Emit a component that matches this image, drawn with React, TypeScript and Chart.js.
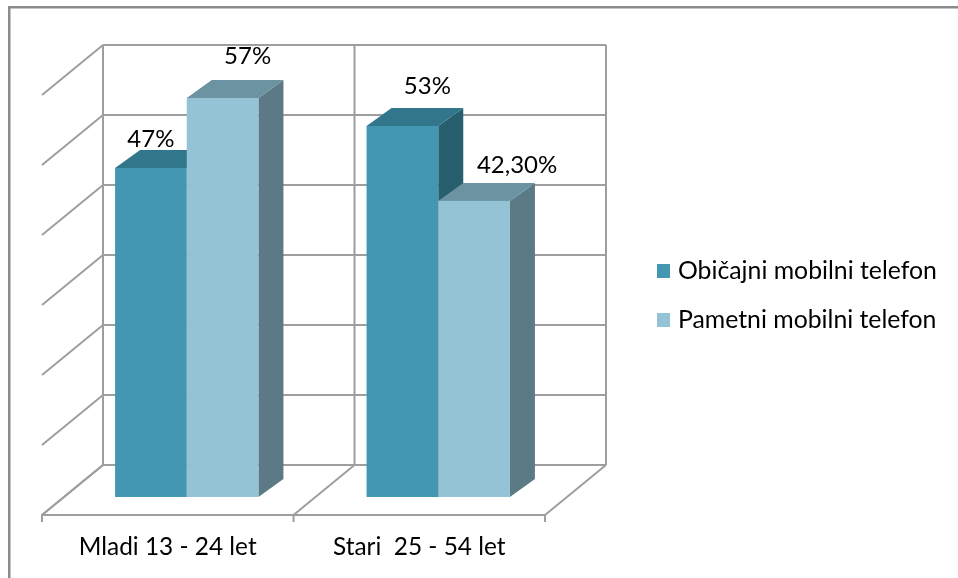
import React, { useEffect, useRef } from "react";
import { Chart, registerables } from "chart.js";

Chart.register(...registerables);

// ---- data ----
const categories = ["Mladi 13 - 24 let", "Stari  25 - 54 let"];
const seriesNames = ["Običajni mobilni telefon", "Pametni mobilni telefon"];
const obicajniValues = [47, 53];
const pametniValues = [57, 42.3];
const yMin = 0;
const yMax = 60;
const yStep = 10;

// ---- styles ----
const FONT = "Lato, 'Open Sans', sans-serif";
const GRID = "#9e9e9e";
const FACE = [
  { front: "#4397B0", top: "#31768A", side: "#275F6F" },
  { front: "#93C3D4", top: "#6B93A2", side: "#5B7A86" },
];
const WALL = { dx: 61, dy: -50 }; // back wall offset from floor front edge
const BAR_OFF = { dx: 19, dy: -18 }; // bar front plane offset from floor front edge
const BAR_DEPTH = { dx: 25, dy: -18 };
// label nudges relative to (bar front center, bar back-top edge)
const LABEL_NUDGE = [
  [{ dx: 0, dy: -11 }, { dx: 25, dy: -22 }],
  [{ dx: 25, dy: -24 }, { dx: 43, dy: -18 }],
];

function fmt(v: number) {
  return Number.isInteger(v) ? `${v}%` : `${v.toFixed(2).replace(".", ",")}%`;
}

const threeD = {
  id: "threeD",
  beforeDatasetsDraw(chart: any) {
    const { ctx, chartArea } = chart;
    const y = chart.scales.y;
    const L = chartArea.left;
    const R = chartArea.right;
    const B = y.getPixelForValue(yMin);
    const n = categories.length;
    const cw = (R - L) / n;

    ctx.save();
    // outer frame (top & left visible)
    ctx.fillStyle = "#8c8c8c";
    ctx.fillRect(8, 6, chart.width - 8, 2.5);
    ctx.fillRect(8, 6, 2.5, chart.height - 6);

    ctx.strokeStyle = GRID;
    ctx.lineWidth = 2;
    ctx.lineCap = "butt";
    const line = (x1: number, y1: number, x2: number, y2: number) => {
      ctx.beginPath();
      ctx.moveTo(x1, y1);
      ctx.lineTo(x2, y2);
      ctx.stroke();
    };

    for (let v = yMin; v <= yMax + 1e-9; v += yStep) {
      const py = y.getPixelForValue(v);
      line(L + WALL.dx, py + WALL.dy, R + WALL.dx, py + WALL.dy);
      line(L, py, L + WALL.dx, py + WALL.dy);
    }
    const topY = y.getPixelForValue(yMax) + WALL.dy;
    const botY = B + WALL.dy;
    for (let i = 0; i <= n; i++) {
      const bx = L + i * cw + WALL.dx;
      line(bx, topY, bx, botY);
    }
    line(L, B, R, B);
    for (let i = 0; i <= n; i++) {
      const fx = L + i * cw;
      line(fx, B, fx + WALL.dx, B + WALL.dy);
      line(fx, B - 1, fx, B + 7);
    }
    ctx.restore();
  },
  afterDatasetsDraw(chart: any) {
    const { ctx } = chart;
    const metas = chart.data.datasets.map((_: any, i: number) => chart.getDatasetMeta(i));
    ctx.save();
    for (let idx = 0; idx < categories.length; idx++) {
      metas.forEach((meta: any, di: number) => {
        const el = meta.data[idx];
        const { x, y, base, width } = el.getProps(["x", "y", "base", "width"], true);
        const x0 = x - width / 2 + BAR_OFF.dx;
        const x1 = x + width / 2 + BAR_OFF.dx;
        const yt = y + BAR_OFF.dy;
        const yb = base + BAR_OFF.dy;
        const c = FACE[di];
        ctx.fillStyle = c.side;
        ctx.beginPath();
        ctx.moveTo(x1, yt);
        ctx.lineTo(x1 + BAR_DEPTH.dx, yt + BAR_DEPTH.dy);
        ctx.lineTo(x1 + BAR_DEPTH.dx, yb + BAR_DEPTH.dy);
        ctx.lineTo(x1, yb);
        ctx.closePath();
        ctx.fill();
        ctx.fillStyle = c.top;
        ctx.beginPath();
        ctx.moveTo(x0, yt);
        ctx.lineTo(x0 + BAR_DEPTH.dx, yt + BAR_DEPTH.dy);
        ctx.lineTo(x1 + BAR_DEPTH.dx, yt + BAR_DEPTH.dy);
        ctx.lineTo(x1, yt);
        ctx.closePath();
        ctx.fill();
        ctx.fillStyle = c.front;
        ctx.fillRect(x0, yt, x1 - x0, yb - yt);
      });
    }
    ctx.fillStyle = "#000";
    ctx.font = `24px ${FONT}`;
    ctx.textAlign = "center";
    ctx.textBaseline = "middle";
    metas.forEach((meta: any, di: number) => {
      const vals = chart.data.datasets[di].data;
      meta.data.forEach((el: any, idx: number) => {
        const { x, y } = el.getProps(["x", "y"], true);
        const nud = LABEL_NUDGE[di][idx];
        const cx = x + BAR_OFF.dx + nud.dx;
        const cy = y + BAR_OFF.dy + BAR_DEPTH.dy + nud.dy;
        ctx.fillText(fmt(vals[idx]), cx, cy);
      });
    });
    const lx = 657;
    const ly = [271, 320];
    ctx.font = `24.8px ${FONT}`;
    ctx.textAlign = "left";
    chart.data.datasets.forEach((ds: any, di: number) => {
      ctx.fillStyle = FACE[di].front;
      ctx.fillRect(lx, ly[di] - 7, 13, 14);
      ctx.fillStyle = "#000";
      ctx.fillText(ds.label, lx + 21, ly[di]);
    });
    ctx.restore();
  },
};

export default function App() {
  const ref = useRef<HTMLCanvasElement | null>(null);
  useEffect(() => {
    if (!ref.current) return;
    const chart = new Chart(ref.current, {
      type: "bar",
      data: {
        labels: categories,
        datasets: [
          { label: seriesNames[0], data: obicajniValues, backgroundColor: "rgba(0,0,0,0)" },
          { label: seriesNames[1], data: pametniValues, backgroundColor: "rgba(0,0,0,0)" },
        ],
      },
      options: {
        animation: false,
        responsive: false,
        devicePixelRatio: 1,
        layout: { padding: { left: 42, right: 413, top: 95, bottom: 18 } },
        datasets: { bar: { categoryPercentage: 0.57, barPercentage: 1 } },
        plugins: { legend: { display: false }, tooltip: { enabled: false } },
        scales: {
          y: { display: false, min: yMin, max: yMax, ticks: { stepSize: yStep } },
          x: {
            grid: { display: false, drawTicks: false },
            border: { display: false },
            ticks: { color: "#000", font: { family: FONT, size: 24.4 }, padding: 18, maxRotation: 0 },
            afterFit: (s: any) => {
              s.height = 45;
            },
          },
        },
      },
      plugins: [threeD],
    });
    return () => chart.destroy();
  }, []);
  return (
    <div style={{ position: "fixed", left: 0, top: 0, width: 958, height: 578, background: "#fff" }}>
      <canvas ref={ref} width={958} height={578} style={{ display: "block" }} />
    </div>
  );
}
